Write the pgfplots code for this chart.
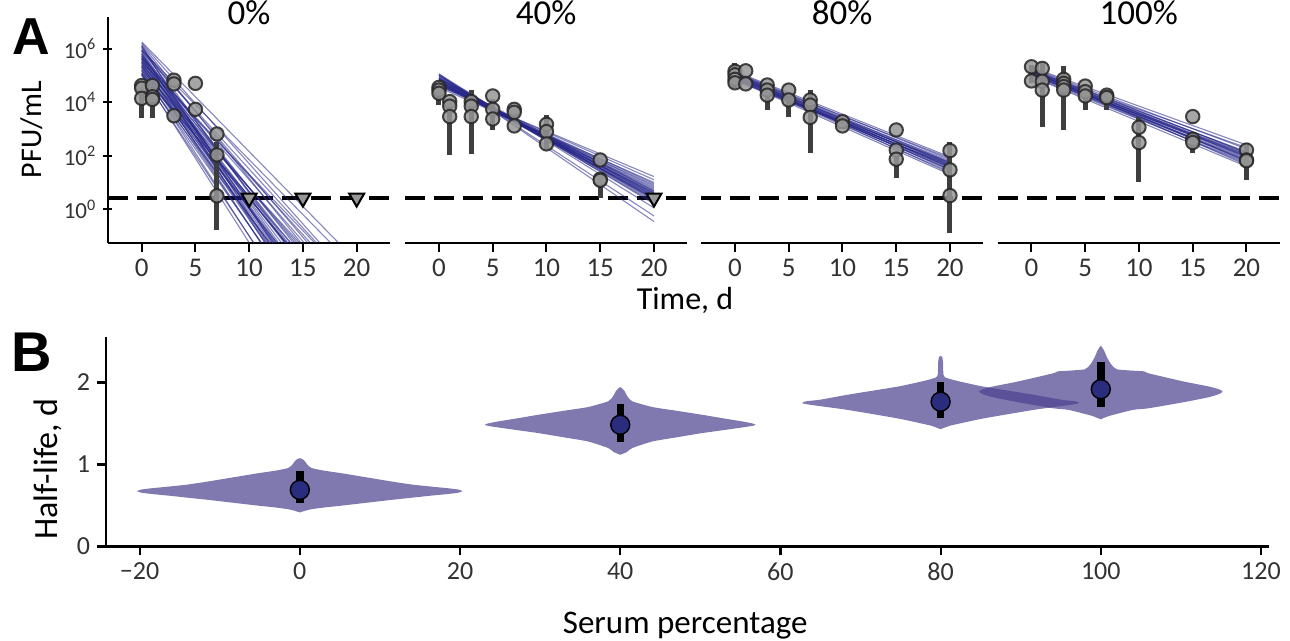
\documentclass[border=0pt]{standalone}
\usepackage{fontspec}
\setmainfont{Carlito}
\newfontfamily\panelfont{Liberation Sans}
\usepackage{pgfplots}
\pgfplotsset{compat=1.18}

\definecolor{fitblue}{RGB}{36,36,136}
\definecolor{ptfill}{RGB}{150,150,150}
\definecolor{errgray}{RGB}{62,62,62}
\definecolor{violin}{RGB}{74,64,142}
\definecolor{meanblue}{RGB}{42,44,125}
\definecolor{ticktext}{RGB}{50,50,50}

\pgfplotsset{
  decay/.style={
    scale only axis, anchor=south west,
    width=141.1pt, height=113pt,
    xmin=-3.15, xmax=23.1, ymin=-1.25, ymax=7.19,
    axis x line=bottom,
    x axis line style={-, line width=1pt},
    tick style={line width=1pt, black}, tick align=outside, major tick length=4.5pt,
    xtick={0,5,10,15,20}, xticklabels={0,5,10,15,20},
    x tick label style={font=\fontsize{13.5}{14}\selectfont, text=ticktext},
    title style={font=\fontsize{17.5}{18}\selectfont, at={(0.5,1)}, anchor=base, yshift=-9.9pt},
  },
  noy/.style={axis y line=none, ytick=\empty},
  fitline/.style={fitblue, line width=0.55pt, opacity=0.55, forget plot},
  errbar/.style={errgray, line width=2.5pt, unbounded coords=jump},
  pts/.style={only marks, mark=*, mark size=3.35pt, opacity=0.85,
    mark options={fill=ptfill, draw=black!85, line width=1pt}},
  cens/.style={only marks, mark=triangle*, mark size=4.3pt,
    mark options={rotate=180, fill=ptfill, draw=black, line width=1pt}},
  lod/.style={black, line width=2.3pt, dash pattern=on 10pt off 4.5pt},
  vio/.style={draw=none, fill=violin, fill opacity=0.7, smooth, tension=0.35},
}

\begin{document}
\begin{tikzpicture}
\path[use as bounding box] (0,0) rectangle (645pt,320.5pt);

% ---------- A: 0% ----------
\begin{axis}[decay, at={(53.9pt,199.15pt)}, title={0\%},
    axis y line=left, y axis line style={-, line width=1pt},
    ytick={0,2,4,6},
    yticklabels={10\textsuperscript{0},10\textsuperscript{2},10\textsuperscript{4},10\textsuperscript{6}},
    y tick label style={font=\fontsize{11.5}{12}\selectfont, text=ticktext},
    ylabel={PFU/mL},
    ylabel style={at={(axis description cs:-0.235,0.5)}, anchor=base, font=\fontsize{15}{16}\selectfont}]
\addplot[lod] coordinates {(-3.15,0.42)(23.1,0.42)};
\addplot[fitline] coordinates {(0,6.25)(18.3,-1.25)};
\addplot[fitline] coordinates {(0,6.20)(16.56,-1.25)};
\addplot[fitline] coordinates {(0,6.15)(14.8,-1.25)};
\addplot[fitline] coordinates {(0,6.10)(13.36,-1.25)};
\addplot[fitline] coordinates {(0,6.05)(12.17,-1.25)};
\addplot[fitline] coordinates {(0,6.00)(15.43,-1.25)};
\addplot[fitline] coordinates {(0,5.95)(13.58,-1.25)};
\addplot[fitline] coordinates {(0,5.90)(12.33,-1.25)};
\addplot[fitline] coordinates {(0,5.90)(16.25,-1.25)};
\addplot[fitline] coordinates {(0,5.85)(11.45,-1.25)};
\addplot[fitline] coordinates {(0,5.80)(14.1,-1.25)};
\addplot[fitline] coordinates {(0,5.75)(12.73,-1.25)};
\addplot[fitline] coordinates {(0,5.70)(15.11,-1.25)};
\addplot[fitline] coordinates {(0,5.70)(11.58,-1.25)};
\addplot[fitline] coordinates {(0,5.65)(13.27,-1.25)};
\addplot[fitline] coordinates {(0,5.60)(12.02,-1.25)};
\addplot[fitline] coordinates {(0,5.60)(14.27,-1.25)};
\addplot[fitline] coordinates {(0,5.55)(12.59,-1.25)};
\addplot[fitline] coordinates {(0,5.50)(16.07,-1.25)};
\addplot[fitline] coordinates {(0,5.50)(11.07,-1.25)};
\addplot[fitline] coordinates {(0,5.45)(13.4,-1.25)};
\addplot[fitline] coordinates {(0,5.40)(11.88,-1.25)};
\addplot[fitline] coordinates {(0,5.40)(14.46,-1.25)};
\addplot[fitline] coordinates {(0,5.35)(12.45,-1.25)};
\addplot[fitline] coordinates {(0,5.30)(11.1,-1.25)};
\addplot[fitline] coordinates {(0,5.30)(13.37,-1.25)};
\addplot[fitline] coordinates {(0,5.25)(11.82,-1.25)};
\addplot[fitline] coordinates {(0,5.20)(14.66,-1.25)};
\addplot[fitline] coordinates {(0,5.20)(10.4,-1.25)};
\addplot[fitline] coordinates {(0,5.15)(12.55,-1.25)};
\addplot[fitline] coordinates {(0,5.10)(11.14,-1.25)};
\addplot[fitline] coordinates {(0,5.10)(13.51,-1.25)};
\addplot[fitline] coordinates {(0,5.05)(10.0,-1.25)};
\addplot[fitline] coordinates {(0,5.05)(11.89,-1.25)};
\addplot[fitline] coordinates {(0,5.00)(13.89,-1.25)};
\addplot[fitline] coordinates {(0,5.00)(10.42,-1.25)};
\addplot[fitline] coordinates {(0,5.65)(15.68,-1.25)};
\addplot[fitline] coordinates {(0,5.80)(12.16,-1.25)};
\addplot[fitline] coordinates {(0,5.95)(17.56,-1.25)};
\addplot[fitline] coordinates {(0,6.10)(11.67,-1.25)};
\addplot[fitline] coordinates {(0,5.58)(13.0,-1.25)};
\addplot[fitline] coordinates {(0,5.48)(12.3,-1.25)};
\addplot[fitline] coordinates {(0,5.72)(13.8,-1.25)};
\addplot[fitline] coordinates {(0,5.36)(11.5,-1.25)};
\addplot[errbar] coordinates {(0,3.40)(0,4.55)(0,nan)(1,3.40)(1,4.55)(1,nan)(7,-0.77)(7,2.5)};
\addplot[pts] coordinates {(0,4.62)(0,4.52)(0,4.14)(1,4.62)(1,4.20)(1,4.10)
  (3,4.82)(3,4.68)(3,3.49)(5,4.70)(5,3.73)(7,2.81)(7,2.03)(7,0.50)};
\addplot[cens] coordinates {(10,0.42)(15,0.42)(20,0.42)};
\end{axis}

% ---------- A: 40% ----------
\begin{axis}[decay, noy, at={(202.55pt,199.15pt)}, title={40\%}]
\addplot[lod] coordinates {(-3.15,0.42)(23.1,0.42)};
\addplot[fitline] coordinates {(0,5.05)(20,0.05)};
\addplot[fitline] coordinates {(0,5.00)(20,0.20)};
\addplot[fitline] coordinates {(0,4.95)(20,0.30)};
\addplot[fitline] coordinates {(0,4.90)(20,0.40)};
\addplot[fitline] coordinates {(0,4.88)(20,0.50)};
\addplot[fitline] coordinates {(0,4.85)(20,0.55)};
\addplot[fitline] coordinates {(0,4.82)(20,0.60)};
\addplot[fitline] coordinates {(0,4.80)(20,0.45)};
\addplot[fitline] coordinates {(0,4.78)(20,0.65)};
\addplot[fitline] coordinates {(0,4.75)(20,0.70)};
\addplot[fitline] coordinates {(0,4.72)(20,0.75)};
\addplot[fitline] coordinates {(0,4.70)(20,0.85)};
\addplot[fitline] coordinates {(0,4.68)(20,0.95)};
\addplot[fitline] coordinates {(0,4.65)(20,0.80)};
\addplot[fitline] coordinates {(0,4.62)(20,0.90)};
\addplot[fitline] coordinates {(0,4.98)(20,0.35)};
\addplot[fitline] coordinates {(0,4.86)(20,0.42)};
\addplot[fitline] coordinates {(0,4.76)(20,0.58)};
\addplot[fitline] coordinates {(0,4.92)(20,0.25)};
\addplot[fitline] coordinates {(0,4.70)(20,0.62)};
\addplot[fitline] coordinates {(0,4.83)(20,0.52)};
\addplot[fitline] coordinates {(0,4.74)(20,0.48)};
\addplot[fitline] coordinates {(0,4.89)(20,0.68)};
\addplot[fitline] coordinates {(0,4.79)(20,0.38)};
\addplot[fitline] coordinates {(0,4.60)(20,1.22)};
\addplot[fitline] coordinates {(0,4.65)(20,1.10)};
\addplot[fitline] coordinates {(0,5.05)(20,-0.46)};
\addplot[fitline] coordinates {(0,5.00)(20,-0.25)};
\addplot[fitline] coordinates {(0,4.55)(20,1.00)};
\addplot[errbar] coordinates {(0,3.90)(0,4.60)(0,nan)(1,2.03)(1,4.10)(1,nan)(3,2.06)(3,4.45)(3,nan)
  (5,2.96)(5,4.10)(5,nan)(10,2.21)(10,3.52)(10,nan)(15,0.41)(15,1.30)};
\addplot[pts] coordinates {(0,4.55)(0,4.45)(0,4.33)(1,4.02)(1,3.85)(1,3.46)(3,4.02)(3,3.85)(3,3.46)
  (5,4.23)(5,3.73)(5,3.37)(7,3.73)(7,3.62)(7,3.11)(10,3.17)(10,2.90)(10,2.44)(15,1.84)(15,1.12)(15,1.08)};
\addplot[cens] coordinates {(20,0.42)};
\end{axis}

% ---------- A: 80% ----------
\begin{axis}[decay, noy, at={(350.55pt,199.15pt)}, title={80\%}]
\addplot[lod] coordinates {(-3.15,0.42)(23.1,0.42)};
\addplot[fitline] coordinates {(0,5.15)(20,1.95)};
\addplot[fitline] coordinates {(0,5.12)(20,1.85)};
\addplot[fitline] coordinates {(0,5.10)(20,1.75)};
\addplot[fitline] coordinates {(0,5.08)(20,1.65)};
\addplot[fitline] coordinates {(0,5.05)(20,1.55)};
\addplot[fitline] coordinates {(0,5.02)(20,1.45)};
\addplot[fitline] coordinates {(0,5.00)(20,1.35)};
\addplot[fitline] coordinates {(0,4.98)(20,1.80)};
\addplot[fitline] coordinates {(0,4.95)(20,1.70)};
\addplot[fitline] coordinates {(0,4.93)(20,1.60)};
\addplot[fitline] coordinates {(0,4.90)(20,1.50)};
\addplot[fitline] coordinates {(0,4.88)(20,1.40)};
\addplot[fitline] coordinates {(0,4.85)(20,1.30)};
\addplot[fitline] coordinates {(0,4.83)(20,1.75)};
\addplot[fitline] coordinates {(0,4.80)(20,1.65)};
\addplot[fitline] coordinates {(0,5.06)(20,1.90)};
\addplot[fitline] coordinates {(0,4.97)(20,1.58)};
\addplot[fitline] coordinates {(0,5.01)(20,1.68)};
\addplot[fitline] coordinates {(0,4.91)(20,1.62)};
\addplot[fitline] coordinates {(0,4.87)(20,1.55)};
\addplot[fitline] coordinates {(0,5.04)(20,1.72)};
\addplot[fitline] coordinates {(0,4.94)(20,1.48)};
\addplot[errbar] coordinates {(0,4.51)(0,5.45)(0,nan)(3,3.72)(3,4.50)(3,nan)(5,3.43)(5,4.30)(5,nan)
  (7,2.11)(7,4.45)(7,nan)(15,1.16)(15,2.10)(15,nan)(20,-0.90)(20,2.52)};
\addplot[pts] coordinates {(0,5.15)(0,5.02)(0,4.85)(0,4.72)(1,5.17)(1,4.68)(3,4.64)(3,4.45)(3,4.26)
  (5,4.45)(5,4.08)(7,4.08)(7,3.89)(7,3.43)(10,3.27)(10,3.11)(15,2.96)(15,2.21)(15,1.87)
  (20,2.19)(20,1.47)(20,0.51)};
\end{axis}

% ---------- A: 100% ----------
\begin{axis}[decay, noy, at={(498.8pt,199.15pt)}, title={100\%}]
\addplot[lod] coordinates {(-3.15,0.42)(23.1,0.42)};
\addplot[fitline] coordinates {(0,5.30)(20,2.40)};
\addplot[fitline] coordinates {(0,5.27)(20,2.25)};
\addplot[fitline] coordinates {(0,5.25)(20,2.10)};
\addplot[fitline] coordinates {(0,5.22)(20,1.95)};
\addplot[fitline] coordinates {(0,5.20)(20,1.80)};
\addplot[fitline] coordinates {(0,5.17)(20,1.65)};
\addplot[fitline] coordinates {(0,5.15)(20,2.30)};
\addplot[fitline] coordinates {(0,5.12)(20,2.15)};
\addplot[fitline] coordinates {(0,5.10)(20,2.00)};
\addplot[fitline] coordinates {(0,5.08)(20,1.85)};
\addplot[fitline] coordinates {(0,5.05)(20,1.70)};
\addplot[fitline] coordinates {(0,5.02)(20,2.05)};
\addplot[fitline] coordinates {(0,5.00)(20,1.90)};
\addplot[fitline] coordinates {(0,4.97)(20,1.75)};
\addplot[fitline] coordinates {(0,4.95)(20,1.60)};
\addplot[fitline] coordinates {(0,5.18)(20,2.02)};
\addplot[fitline] coordinates {(0,5.13)(20,1.93)};
\addplot[fitline] coordinates {(0,5.09)(20,2.08)};
\addplot[fitline] coordinates {(0,5.14)(20,1.78)};
\addplot[fitline] coordinates {(0,5.06)(20,1.98)};
\addplot[fitline] coordinates {(0,5.21)(20,2.12)};
\addplot[fitline] coordinates {(0,5.03)(20,1.83)};
\addplot[errbar] coordinates {(0,4.70)(0,5.40)(0,nan)(1,3.08)(1,5.51)(1,nan)(3,2.96)(3,5.35)(3,nan)
  (5,3.72)(5,4.50)(5,nan)(7,3.72)(7,4.45)(7,nan)(10,1.03)(10,3.46)(10,nan)(15,2.11)(15,2.70)(15,nan)
  (20,1.09)(20,2.46)};
\addplot[pts] coordinates {(0,5.32)(0,4.79)(1,5.26)(1,4.78)(1,4.45)(3,4.85)(3,4.70)(3,4.58)(3,4.45)
  (5,4.60)(5,4.39)(5,4.23)(7,4.26)(7,4.17)(10,3.06)(10,2.49)(15,3.46)(15,2.61)(15,2.49)
  (20,2.21)(20,1.84)(20,1.81)};
\end{axis}

\node[anchor=base, font=\fontsize{16}{17}\selectfont] at (342.5pt,165.5pt) {Time, d};
\node[anchor=base west, inner sep=0pt, font=\panelfont\bfseries\fontsize{26}{26}\selectfont] at (6pt,293pt) {A};

% ---------- B ----------
\begin{axis}[scale only axis, anchor=south west, at={(53pt,47.25pt)},
    width=581.5pt, height=104.6pt,
    xmin=-24.2, xmax=121, ymin=0, ymax=2.55,
    axis x line=bottom, axis y line=left,
    axis line style={-, line width=1.1pt},
    tick style={line width=1.1pt, black}, tick align=outside, major tick length=4.5pt,
    xtick={-20,0,20,40,60,80,100,120},
    xticklabels={\char"2212 20,0,20,40,60,80,100,120},
    ytick={0,1,2}, yticklabels={0,1,2},
    tick label style={font=\fontsize{13}{14}\selectfont, text=ticktext},
    xlabel={Serum percentage},
    xlabel style={at={(axis description cs:0.498,0)}, anchor=base, yshift=-43.5pt, font=\fontsize{16.5}{17}\selectfont},
    ylabel={Half-life, d},
    ylabel style={at={(axis description cs:-0.0413,0.370)}, anchor=base, font=\fontsize{17}{18}\selectfont}]
% violin, 0 %
\addplot[vio] coordinates {(0,0.415)(0.8,0.44)(1.5,0.455)(3,0.475)(5.4,0.50)(8.5,0.535)(11.6,0.57)(14.5,0.60)
  (16.4,0.62)(18.5,0.64)(19.8,0.656)(20.3,0.675)(19.8,0.694)(18.5,0.71)(16.4,0.73)(14,0.755)(11.6,0.79)
  (8.5,0.84)(5.4,0.89)(3,0.925)(1.5,0.955)(1.0,0.99)(0.7,1.03)(0.4,1.06)(0,1.077)
  (-0.4,1.06)(-0.7,1.03)(-1.0,0.99)(-1.5,0.955)(-3,0.925)(-5.4,0.89)(-8.5,0.84)(-11.6,0.79)(-14,0.755)
  (-16.4,0.73)(-18.5,0.71)(-19.8,0.694)(-20.3,0.675)(-19.8,0.656)(-18.5,0.64)(-16.4,0.62)(-14.5,0.60)
  (-11.6,0.57)(-8.5,0.535)(-5.4,0.50)(-3,0.475)(-1.5,0.455)(-0.8,0.44)} -- cycle;
% violin, 40 %
\addplot[vio] coordinates {(40,1.118)(40.8,1.15)(41.5,1.20)(44,1.28)(47,1.33)(50.2,1.382)(53,1.42)(55.5,1.455)
  (56.5,1.47)(56.9,1.484)(56.5,1.50)(55.5,1.52)(53,1.56)(50.2,1.606)(47,1.655)(44,1.70)(41.5,1.77)
  (40.9,1.83)(40.5,1.90)(40,1.943)
  (39.5,1.90)(39.1,1.83)(38.5,1.77)(36,1.70)(33,1.655)(29.8,1.606)(27,1.56)(24.5,1.52)(23.5,1.50)
  (23.1,1.484)(23.5,1.47)(24.5,1.455)(27,1.42)(29.8,1.382)(33,1.33)(36,1.28)(38.5,1.20)(39.2,1.15)} -- cycle;
% violin, 80 %
\addplot[vio] coordinates {(80,1.43)(80.8,1.46)(81.5,1.48)(85.3,1.56)(91.6,1.665)(95,1.71)(96.8,1.735)
  (97.3,1.75)(96.8,1.77)(95,1.79)(91.6,1.85)(85.3,1.95)(82,2.02)(80.6,2.06)(80.35,2.10)(80.3,2.25)
  (80.2,2.31)(80,2.323)(79.8,2.31)(79.7,2.25)(79.65,2.10)(79.4,2.06)(78,2.02)(74.7,1.95)(68.4,1.85)
  (65,1.79)(63.2,1.77)(62.7,1.75)(63.2,1.735)(65,1.71)(68.4,1.665)(74.7,1.56)(78.5,1.48)(79.2,1.46)} -- cycle;
% violin, 100 %
\addplot[vio] coordinates {(100,1.55)(101,1.59)(104,1.665)(106,1.685)(110.4,1.76)(113.5,1.82)(114.8,1.86)
  (115.2,1.888)(114.8,1.915)(113.5,1.95)(110.4,2.01)(106,2.11)(105.4,2.135)(104.5,2.14)(102,2.16)
  (101.3,2.22)(100.8,2.30)(100.4,2.39)(100,2.445)(99.6,2.39)(99.2,2.30)(98.7,2.22)(98,2.16)(95.5,2.14)
  (94.6,2.135)(94,2.11)(89.6,2.01)(86.5,1.95)(85.2,1.915)(84.8,1.888)(85.2,1.86)(86.5,1.82)(89.6,1.76)
  (94,1.685)(96,1.665)(99,1.59)} -- cycle;
\addplot[black, line width=3.7pt, unbounded coords=jump] coordinates {(0,0.528)(0,0.915)(0,nan)
  (40,1.268)(40,1.736)(40,nan)(80,1.563)(80,2.0)(80,nan)(100,1.698)(100,2.246)};
\addplot[only marks, mark=*, mark size=4.75pt, mark options={fill=meanblue, draw=black, line width=0.7pt}]
  coordinates {(0,0.69)(40,1.484)(80,1.765)(100,1.917)};
\end{axis}
\node[anchor=base west, inner sep=0pt, font=\panelfont\bfseries\fontsize{28}{28}\selectfont] at (5.5pt,134.5pt) {B};
\end{tikzpicture}
\end{document}
